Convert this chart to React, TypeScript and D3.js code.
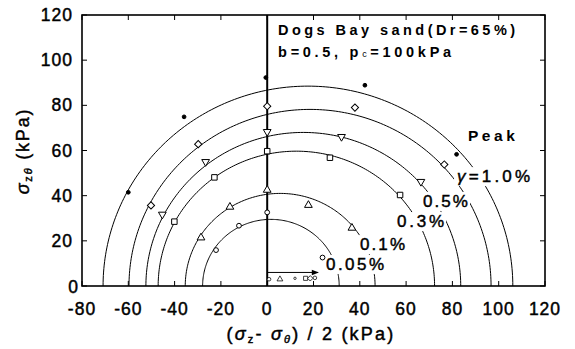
import React from "react";
import * as d3 from "d3";

const W = 575;
const H = 349;
const FONT = "'Liberation Sans', Arial, Helvetica, sans-serif";

// Axis ticks (kPa)
const xTicks = [-80, -60, -40, -20, 0, 20, 40, 60, 80, 100, 120];
const yTicks = [0, 20, 40, 60, 80, 100, 120];

// Strain contours: semicircles centred on the horizontal axis
const contourNames = ["Peak", "1.0%", "0.5%", "0.3%", "0.1%", "0.05%"];
const contourCentres = [17.6, 18.5, 15.6, 12.6, 5.6, 1.6];
const contourRadii = [88.5, 78.2, 68.0, 59.7, 41.0, 29.5];

// Measured stress points per strain level: [(σz-σθ)/2, τzθ]
const peakPoints: [number, number][] = [
  [-60, 41.5], [-35.9, 74.9], [-0.6, 92.3], [42.2, 88.9], [81.8, 58.3],
];
const strain10Points: [number, number][] = [
  [-50.2, 35.7], [-29.8, 62.8], [0, 79.6], [37.9, 79.0], [76.5, 53.8],
];
const strain05Points: [number, number][] = [
  [-45.3, 31.7], [-26.6, 55.0], [0, 68.3], [32.1, 66.1], [66.4, 46.2],
];
const strain03Points: [number, number][] = [
  [-40.1, 28.5], [-22.8, 48.1], [0, 59.7], [27.1, 56.8], [57.4, 40.3],
];
const strain01Points: [number, number][] = [
  [-28.6, 21.4], [-16.1, 35.0], [0, 42.5], [17.8, 35.8], [36.6, 25.7],
];
const strain005Points: [number, number][] = [
  [-22.1, 15.9], [-12.2, 26.7], [0, 32.6], [23.9, 12.6],
];
// Initial states before shearing
const initialPoints: [number, number][] = [
  [0.8, 3.0], [5.5, 3.0], [12.0, 3.4], [16.6, 3.4], [18.6, 3.4], [20.6, 3.6],
];
const initialShapes = ["circle", "up", "tiny", "square", "diamond", "circle"];

// Contour labels: text, anchor (data units), width (px)
const contourTags = ["γ=1.0%", "0.5%", "0.3%", "0.1%", "0.05%"];
const tagAnchors: [number, number][] = [
  [82.0, 46.0], [67.3, 35.0], [56.1, 26.1], [40.1, 15.9], [25.4, 7.1],
];
const tagWidths = [73, 45, 47, 45, 58];

type Shape = "dot" | "diamond" | "down" | "square" | "up" | "circle" | "tiny";

const symbolPath = (shape: Shape): { d: string; rot: number; fill: string } => {
  switch (shape) {
    case "dot":
      return { d: d3.symbol(d3.symbolCircle, 11)() as string, rot: 0, fill: "#000" };
    case "diamond":
      return { d: d3.symbol(d3.symbolSquare, 26)() as string, rot: 45, fill: "#fff" };
    case "down":
      return { d: d3.symbol(d3.symbolTriangle, 26)() as string, rot: 180, fill: "#fff" };
    case "up":
      return { d: d3.symbol(d3.symbolTriangle, 26)() as string, rot: 0, fill: "#fff" };
    case "square":
      return { d: d3.symbol(d3.symbolSquare, 30)() as string, rot: 0, fill: "#fff" };
    case "tiny":
      return { d: d3.symbol(d3.symbolCircle, 8)() as string, rot: 0, fill: "#fff" };
    default:
      return { d: d3.symbol(d3.symbolCircle, 18)() as string, rot: 0, fill: "#fff" };
  }
};

export default function App() {
  const x = d3.scaleLinear().domain([-80, 120]).range([82, 545]);
  const y = d3.scaleLinear().domain([0, 120]).range([286, 15]);

  const angles = d3.range(0, 181).map((d) => (d * Math.PI) / 180);

  const arcs = contourRadii.map((r, k) => {
    const c = contourCentres[k];
    return d3
      .line<number>()
      .x((t) => x(c + r * Math.cos(t)))
      .y((t) => y(r * Math.sin(t)))(angles) as string;
  });

  const groups: { pts: [number, number][]; shape: Shape }[] = [
    { pts: peakPoints, shape: "dot" },
    { pts: strain10Points, shape: "diamond" },
    { pts: strain05Points, shape: "down" },
    { pts: strain03Points, shape: "square" },
    { pts: strain01Points, shape: "up" },
    { pts: strain005Points, shape: "circle" },
  ];

  const x0 = x(-80), x1 = x(120), y0 = y(0), y1 = y(120);
  const tickLen = 5;
  const ink = { fill: "#000", stroke: "#000", strokeWidth: 0.45 };

  return (
    <svg
      width={W}
      height={H}
      viewBox={`0 0 ${W} ${H}`}
      style={{ position: "absolute", left: 0, top: 0, background: "#fff" }}
      fontFamily={FONT}
    >
      <defs>
        <marker id="arrowHead" viewBox="0 0 10 10" refX="9" refY="5" markerWidth="9" markerHeight="7" orient="auto" markerUnits="userSpaceOnUse">
          <path d="M0,1 L10,5 L0,9 Z" fill="#000" />
        </marker>
      </defs>
      <rect width={W} height={H} fill="#fff" />

      {/* contours */}
      {arcs.map((d, i) => (
        <path key={contourNames[i]} d={d} fill="none" stroke="#000" strokeWidth={1} />
      ))}

      {/* label backgrounds break the contours */}
      {contourTags.map((t, i) => (
        <rect
          key={"bg" + t}
          x={x(tagAnchors[i][0]) - 3}
          y={y(tagAnchors[i][1]) - 15}
          width={tagWidths[i] + 5}
          height={19}
          fill="#fff"
        />
      ))}

      {/* axis at zero */}
      <line x1={x(0)} x2={x(0)} y1={y0} y2={y1} stroke="#000" strokeWidth={2} />

      {/* initial-state arrow */}
      <line x1={x(0)} x2={x(22)} y1={y(6)} y2={y(6)} stroke="#000" strokeWidth={1} markerEnd="url(#arrowHead)" />

      {/* markers */}
      {groups.map((g, gi) =>
        g.pts.map((p, pi) => {
          const s = symbolPath(g.shape);
          return (
            <path
              key={`m${gi}-${pi}`}
              d={s.d}
              transform={`translate(${x(p[0])},${y(p[1])}) rotate(${s.rot})`}
              fill={s.fill}
              stroke="#000"
              strokeWidth={1}
            />
          );
        })
      )}
      {initialPoints.map((p, i) => {
        const s = symbolPath(initialShapes[i] as Shape);
        return (
          <path
            key={`i${i}`}
            d={s.d}
            transform={`translate(${x(p[0])},${y(p[1])}) rotate(${s.rot}) scale(0.75)`}
            fill={s.fill}
            stroke="#000"
            strokeWidth={1}
          />
        );
      })}

      {/* frame */}
      <rect x={x0} y={y1} width={x1 - x0} height={y0 - y1} fill="none" stroke="#000" strokeWidth={1.6} />

      {/* ticks */}
      {xTicks.map((t) => (
        <g key={"xt" + t}>
          <line x1={x(t)} x2={x(t)} y1={y0} y2={y0 - tickLen} stroke="#000" strokeWidth={1} />
          <line x1={x(t)} x2={x(t)} y1={y1} y2={y1 + tickLen} stroke="#000" strokeWidth={1} />
          <text x={x(t)} y={314.5} textAnchor="middle" fontSize={17.5} letterSpacing={1} {...ink}>
            {t}
          </text>
        </g>
      ))}
      {yTicks.map((t) => (
        <g key={"yt" + t}>
          <line x1={x0} x2={x0 + tickLen} y1={y(t)} y2={y(t)} stroke="#000" strokeWidth={1} />
          <line x1={x1} x2={x1 - tickLen} y1={y(t)} y2={y(t)} stroke="#000" strokeWidth={1} />
          <text
            x={t === 0 ? 79 : 73}
            y={t === 0 ? 292.5 : y(t) + 6}
            textAnchor="end"
            fontSize={17.5}
            letterSpacing={1}
            {...ink}
          >
            {t}
          </text>
        </g>
      ))}

      {/* axis titles */}
      <text x={311} y={340} textAnchor="middle" fontSize={18} letterSpacing={2.2} {...ink}>
        (<tspan fontStyle="italic">σ</tspan>
        <tspan fontSize={11} dy={3}>z</tspan>
        <tspan dy={-3}>- </tspan>
        <tspan fontStyle="italic">σ</tspan>
        <tspan fontSize={11} dy={3} fontStyle="italic">θ</tspan>
        <tspan dy={-3}>) / 2 (kPa)</tspan>
      </text>
      <text
        transform={`translate(29,151) rotate(-90)`}
        textAnchor="middle"
        fontSize={18}
        letterSpacing={1.8}
        {...ink}
      >
        <tspan fontStyle="italic">σ</tspan>
        <tspan fontSize={11} dy={3}>z</tspan>
        <tspan fontSize={11} fontStyle="italic">θ</tspan>
        <tspan dy={-3}> (kPa)</tspan>
      </text>

      {/* specimen info */}
      <text x={x(4.7)} y={y(111)} fontSize={14.5} fontWeight="bold" textLength={237} lengthAdjust="spacing" fill="#000">
        Dogs Bay sand(Dr=65%)
      </text>
      <text x={x(4.7)} y={y(101.3)} fontSize={14.5} fontWeight="bold" textLength={173} lengthAdjust="spacing" fill="#000">
        b=0.5, p<tspan fontSize={9} fontWeight="normal">c</tspan>=100kPa
      </text>

      {/* contour labels */}
      <text x={x(86.7)} y={y(64.2)} fontSize={15.5} fontWeight="bold" textLength={47} lengthAdjust="spacing" fill="#000">
        Peak
      </text>
      {contourTags.map((t, i) => (
        <text
          key={"tag" + t}
          x={x(tagAnchors[i][0])}
          y={y(tagAnchors[i][1])}
          fontSize={17}
          textLength={tagWidths[i]}
          lengthAdjust="spacing"
          {...ink}
        >
          {t.startsWith("γ") ? (
            <>
              <tspan fontStyle="italic">γ</tspan>
              {t.slice(1)}
            </>
          ) : (
            t
          )}
        </text>
      ))}
    </svg>
  );
}
